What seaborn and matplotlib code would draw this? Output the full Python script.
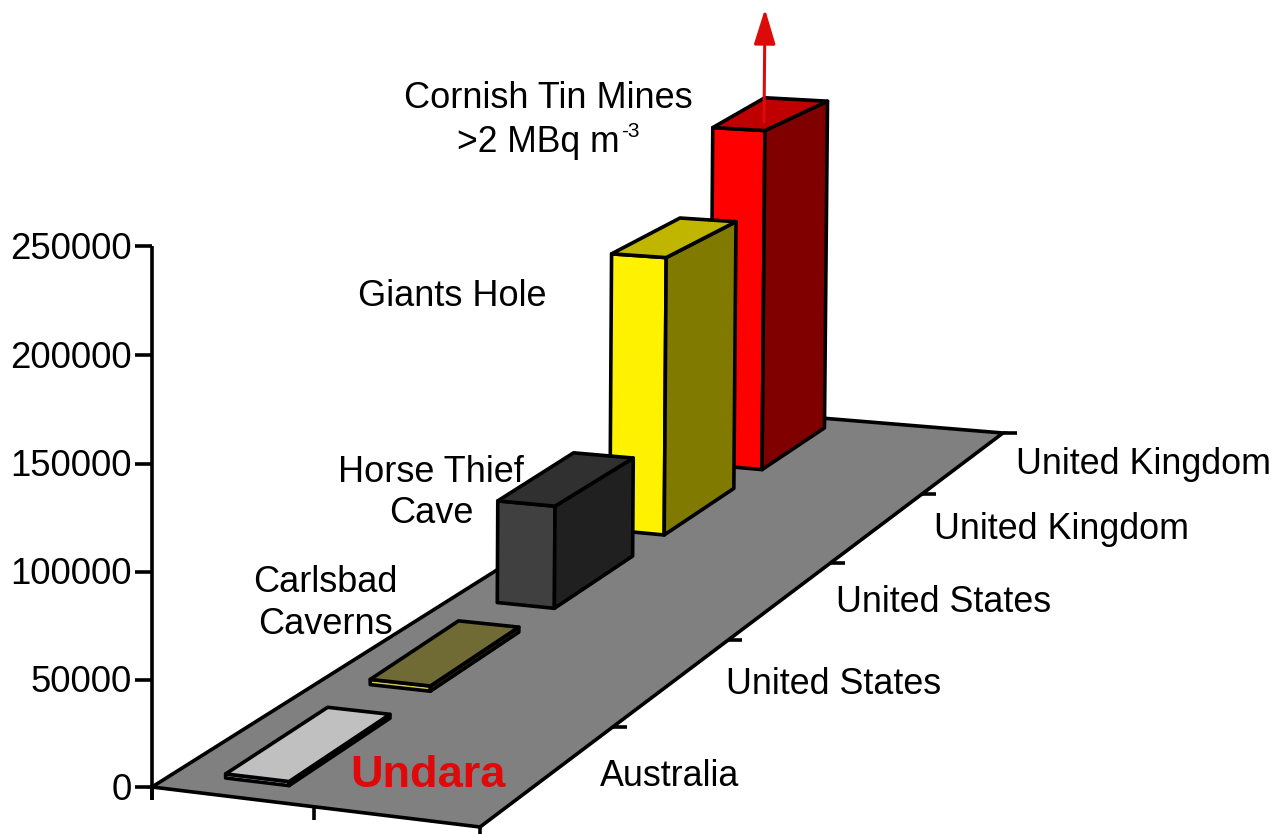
import numpy as np
import pandas as pd
import matplotlib
matplotlib.use("Agg")
import matplotlib.pyplot as plt
import seaborn as sns

# ---- data -------------------------------------------------------------
sites = ["Undara", "Carlsbad Caverns", "Horse Thief Cave", "Giants Hole", "Cornish Tin Mines"]
countries = ["Australia", "United States", "United States", "United Kingdom", "United Kingdom"]
radon = [1900, 2600, 54000, 155000, 200000]
yticks = [0, 50000, 100000, 150000, 200000, 250000]

front_colors = ["#e4e4ff", "#d8c850", "#404040", "#fff200", "#ff0000"]
top_colors = ["#c0c0c0", "#706a34", "#303030", "#c0b600", "#c00000"]
side_colors = ["#000000", "#3a3610", "#202020", "#807a00", "#800000"]
back_skew = [0.004, 0.008, 0.016, 0.012, 0.048]

# ---- projection: floor unit square + height to picture pixels ---------
P00, P10, P11, P01 = (152, 787), (480, 827), (1003, 433), (748, 412)
F_Z = 107.3 / 50000    # pixels per unit at the axis
K_Z = 0.0015 / 50000   # vertical perspective

dx1, dy1 = P10[0] - P11[0], P10[1] - P11[1]
dx2, dy2 = P01[0] - P11[0], P01[1] - P11[1]
sx = P00[0] - P10[0] + P11[0] - P01[0]
sy = P00[1] - P10[1] + P11[1] - P01[1]
det = dx1 * dy2 - dx2 * dy1
g = (sx * dy2 - dx2 * sy) / det
h = (dx1 * sy - sx * dy1) / det
a, b, c = P10[0] - P00[0] + g * P10[0], P01[0] - P00[0] + h * P01[0], P00[0]
d, e, f = P10[1] - P00[1] + g * P10[1], P01[1] - P00[1] + h * P01[1], P00[1]


def proj(u, v, z=0.0):
    w = g * u + h * v + 1 - K_Z * z
    x = a * u + b * v + c - P00[0] * K_Z * z
    y = d * u + e * v + f - P00[1] * K_Z * z - F_Z * z
    return x / w, y / w


# ---- figure -------------------------------------------------------------
sns.set_theme(style="white")
plt.rcParams["font.family"] = ["Liberation Sans", "DejaVu Sans"]

fig = plt.figure(figsize=(12.74, 8.34), dpi=100)
ax = fig.add_axes([0, 0, 1, 1])
ax.set_xlim(0, 1274)
ax.set_ylim(834, 0)
ax.axis("off")

LW = 2.6
FS = 26

# floor
floor = [proj(0, 0), proj(1, 0), proj(1, 1), proj(0, 1)]
ax.fill(*zip(*floor), facecolor="#808080", edgecolor="black", lw=LW,
        joinstyle="miter", zorder=1)

# axis frame and ticks drawn through seaborn
segs = []


def seg(name, p, q):
    segs.append({"seg": name, "x": p[0], "y": p[1], "o": 0})
    segs.append({"seg": name, "x": q[0], "y": q[1], "o": 1})


seg("yaxis", proj(0, 0, -6000), proj(0, 0, yticks[-1]))
for t in yticks:
    px, py = proj(0, 0, t)
    seg(f"y{t}", (px - 17, py), (px, py))
for i in range(1, len(sites) + 1):
    px, py = proj(1, i / len(sites))
    seg(f"r{i}", (px, py), (px + 14, py))
for i in range(0, 3):
    px, py = proj(i / 2, 0)
    seg(f"f{i}", (px, py), (px, py + 13))
frame = pd.DataFrame(segs)
sns.lineplot(data=frame, x="x", y="y", units="seg", estimator=None, sort=False,
             color="black", lw=LW, ax=ax, legend=False, zorder=2,
             solid_capstyle="butt")
ax.set_xlim(0, 1274)
ax.set_ylim(834, 0)
ax.axis("off")

# bars, painted back to front
u0, u1 = 0.157, 0.355
n = len(sites)
for i, val in enumerate(radon):
    v0, v1 = (i + 0.15) / n, (i + 0.85) / n
    fb, fbr = proj(u0, v0), proj(u1, v0)
    bbr = proj(u1, v1)
    ft, ftr = proj(u0, v0, val), proj(u1, v0, val)
    btl, btr = proj(u0 - back_skew[i], v1, val), proj(u1, v1, val)
    z = 3 + (n - i) * 0.1
    kw = dict(edgecolor="black", lw=LW, joinstyle="round", zorder=z)
    ax.fill(*zip(ft, ftr, fbr, fb), facecolor=front_colors[i], **kw)
    ax.fill(*zip(ftr, btr, bbr, fbr), facecolor=side_colors[i], **kw)
    ax.fill(*zip(ft, btl, btr, ftr), facecolor=top_colors[i], **kw)

# arrow on the off-scale bar
ax.annotate("", xy=(765, 9), xytext=(764, 122),
            arrowprops=dict(arrowstyle="-|>,head_length=0.98,head_width=0.3",
                            color="#dd0a0a", lw=2.2, shrinkA=0, shrinkB=0,
                            mutation_scale=22),
            zorder=6)

# text
for t in yticks:
    ax.text(132, proj(0, 0, t)[1] + 12.5, str(t), ha="right", va="baseline",
            fontsize=26.3, color="black", zorder=7)

name_lines = [
    (548, 108, "Cornish Tin Mines"),
    (452, 306, "Giants Hole"),
    (431, 482, "Horse Thief"),
    (431, 523, "Cave"),
    (325, 592, "Carlsbad"),
    (325, 634, "Caverns"),
]
for x, y, s in name_lines:
    ax.text(x, y, s, ha="center", va="baseline", fontsize=FS, color="black", zorder=7)
ax.text(457, 152, ">2 MBq m", ha="left", va="baseline", fontsize=25.6, color="black", zorder=7)
ax.text(621, 137, "-3", ha="left", va="baseline", fontsize=15, color="black", zorder=7)
ax.text(428, 787, sites[0], ha="center", va="baseline", fontsize=32.5,
        fontweight="bold", color="#e00808", zorder=7)

country_pos = [(670, 786), (834, 694), (944, 612), (1061, 539), (1144, 474)]
for (x, y), s in zip(country_pos, countries):
    ax.text(x, y, s, ha="center", va="baseline", fontsize=25.8, color="black", zorder=7)

fig.savefig("out.png", dpi=100, facecolor="white")
